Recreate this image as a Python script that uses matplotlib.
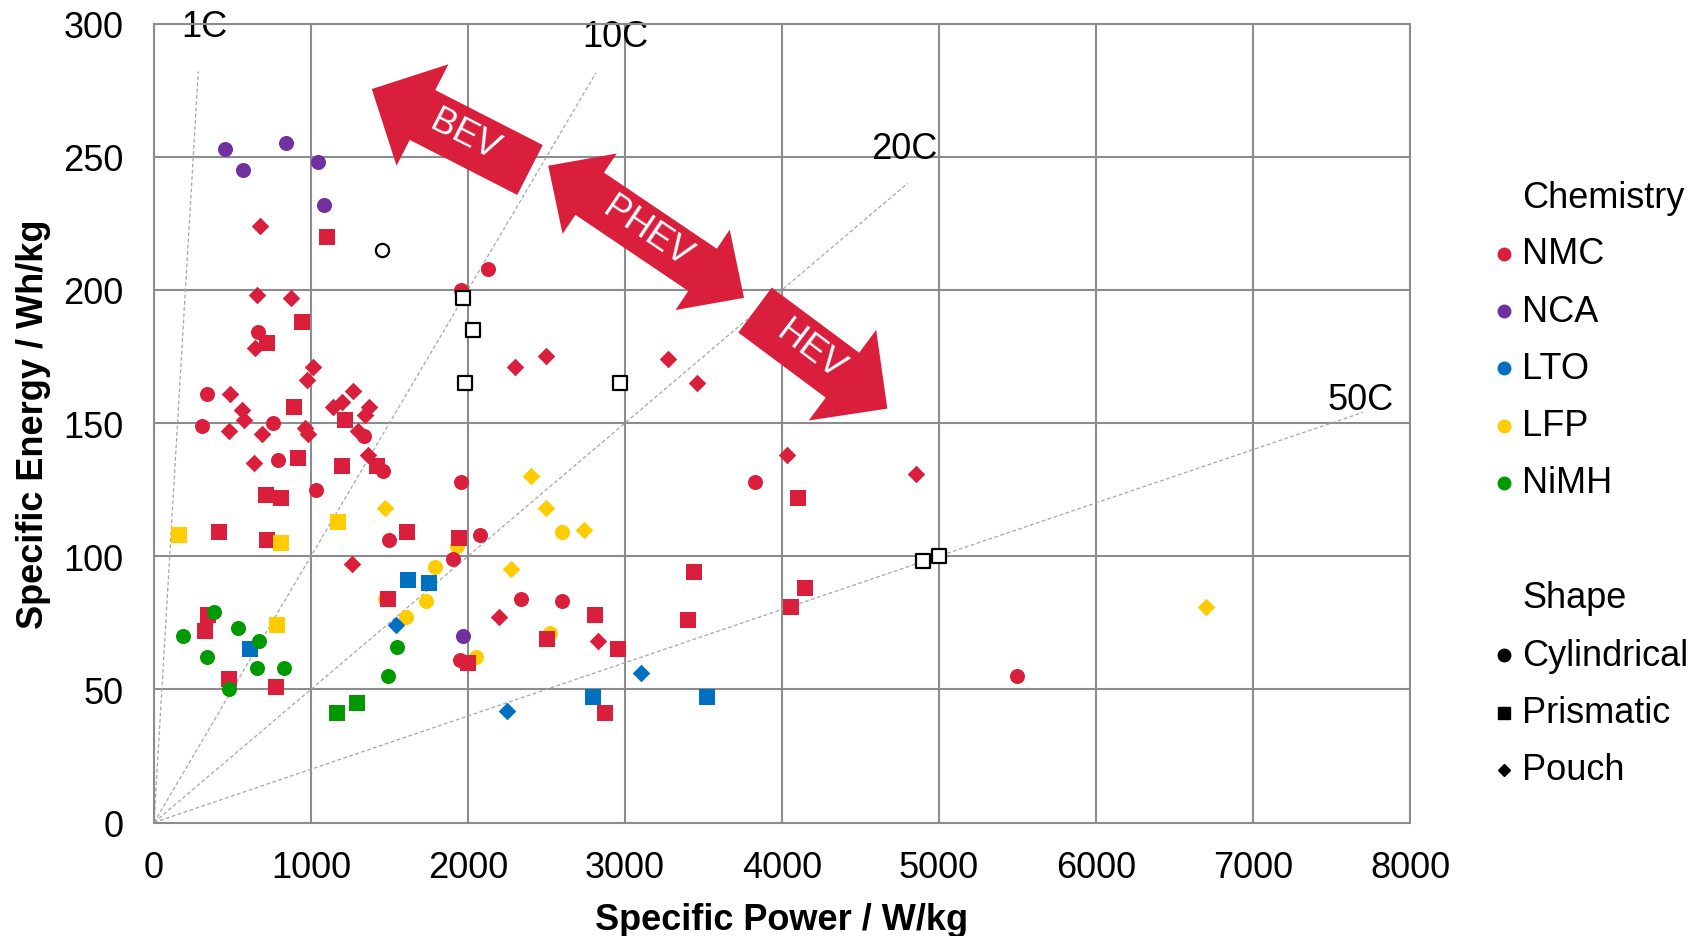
import numpy as np
import matplotlib
matplotlib.use('Agg')
import matplotlib.pyplot as plt
from matplotlib.patches import Polygon
from matplotlib.lines import Line2D
from matplotlib.transforms import IdentityTransform

plt.rcParams['font.family'] = ['Liberation Sans', 'DejaVu Sans']

# specific power (W/kg) / specific energy (Wh/kg), by chemistry and cell shape
nmc_cyl_p = [2130, 1955, 665, 335, 305, 760, 1340, 790, 1460, 1955, 1035, 1500, 2075, 1905, 2340, 2600, 1950, 3830, 5500]
nmc_cyl_e = [208, 200, 184, 161, 149, 150, 145, 136, 132, 128, 125, 106, 108, 99, 84, 83, 61, 128, 55]
nmc_pri_p = [1100, 940, 720, 890, 1215, 915, 1195, 1420, 715, 810, 415, 720, 1610, 1940, 1490, 345, 325, 475, 775,
             2000, 2505, 2810, 2955, 2875, 3440, 3400, 4100, 4145, 4060]
nmc_pri_e = [220, 188, 180, 156, 151, 137, 134, 134, 123, 122, 109, 106, 109, 107, 84, 78, 72, 54, 51,
             60, 69, 78, 65, 41, 94, 76, 122, 88, 81]
nmc_pou_p = [675, 655, 875, 645, 1015, 975, 485, 560, 1265, 1200, 1140, 1370, 1345, 575, 475, 690, 960, 980, 1300,
             635, 1365, 1260, 2200, 2825, 2300, 2500, 3275, 3460, 4030, 4855]
nmc_pou_e = [224, 198, 197, 178, 171, 166, 161, 155, 162, 158, 156, 156, 153, 151, 147, 146, 148, 146, 147,
             135, 138, 97, 77, 68, 171, 175, 174, 165, 138, 131]

nca_cyl_p = [450, 840, 570, 1045, 1080, 1965]
nca_cyl_e = [253, 255, 245, 248, 232, 70]

lto_pri_p = [1620, 1750, 610, 2795, 3525]
lto_pri_e = [91, 90, 65, 47, 47]
lto_pou_p = [1540, 2250, 3100]
lto_pou_e = [74, 42, 56]

lfp_cyl_p = [1930, 1790, 1470, 1730, 1605, 2050, 2600, 2520]
lfp_cyl_e = [104, 96, 84, 83, 77, 62, 109, 71]
lfp_pri_p = [160, 810, 1170, 785]
lfp_pri_e = [108, 105, 113, 74]
lfp_pou_p = [2400, 1470, 2275, 2500, 2740, 6700]
lfp_pou_e = [130, 118, 95, 118, 110, 81]

nimh_cyl_p = [385, 185, 537, 670, 335, 655, 830, 475, 1550, 1490]
nimh_cyl_e = [79, 70, 73, 68, 62, 58, 58, 50, 66, 55]
nimh_pri_p = [1165, 1295]
nimh_pri_e = [41, 45]

# unlabelled cells (open markers)
open_cyl_p = [1450]
open_cyl_e = [215]
open_pri_p = [1965, 2035, 1980, 2970, 4895, 5000]
open_pri_e = [197, 185, 165, 165, 98, 100]

c_rates = [1, 10, 20, 50]
c_line_top = [282, 281.5, 240, 154]
c_labels = ['1C', '10C', '20C', '50C']

chem_names = ['NMC', 'NCA', 'LTO', 'LFP', 'NiMH']
chem_colors = ['#DA1F3D', '#7030A0', '#0070C0', '#FFCC00', '#009A00']
shape_names = ['Cylindrical', 'Prismatic', 'Pouch']

RED = chem_colors[0]
W, H = 1699, 937
fig = plt.figure(figsize=(W / 100, H / 100), dpi=100)
ax = fig.add_axes([154 / W, 1 - 823.5 / H, 1256 / W, 799 / H])

ax.set_xlim(0, 8000)
ax.set_ylim(0, 300)
ax.set_xticks(range(0, 8001, 1000))
ax.set_yticks(range(0, 301, 50))
ax.grid(True, color='#8C8C8C', lw=1.5, zorder=0)
ax.set_axisbelow(True)
for s in ax.spines.values():
    s.set_color('#8C8C8C')
    s.set_linewidth(1.5)
ax.tick_params(length=0, labelsize=26)
ax.tick_params(axis='x', pad=20)
ax.tick_params(axis='y', pad=22)

# C-rate reference lines
for c, top, lab in zip(c_rates, c_line_top, c_labels):
    ax.plot([0, c * top], [0, top], ls=(0, (3, 2)), color='#A6A6A6', lw=0.9, zorder=1)
label_pos = [(318, 299), (2936, 295), (4782, 253), (7688, 159)]
for lab, (px, py) in zip(c_labels, label_pos):
    ax.text(px, py, lab, fontsize=26, ha='center', va='center', zorder=2, clip_on=False)

S_CIRC = 117
S_SQ = 117
S_DIA = 80


def pts(p, e, color, marker, size):
    ax.scatter(p, e, s=size, marker=marker, color=color, linewidths=0, zorder=3)


pts(lfp_cyl_p, lfp_cyl_e, chem_colors[3], 'o', S_CIRC)
pts(nmc_cyl_p, nmc_cyl_e, RED, 'o', S_CIRC)
pts(nmc_pri_p, nmc_pri_e, RED, 's', S_SQ)
pts(nmc_pou_p, nmc_pou_e, RED, 'D', S_DIA)
pts(nca_cyl_p, nca_cyl_e, chem_colors[1], 'o', S_CIRC)
pts(lto_pri_p, lto_pri_e, chem_colors[2], 's', S_SQ)
pts(lto_pou_p, lto_pou_e, chem_colors[2], 'D', S_DIA)
pts(lfp_pri_p, lfp_pri_e, chem_colors[3], 's', S_SQ)
pts(lfp_pou_p, lfp_pou_e, chem_colors[3], 'D', S_DIA)
pts(nimh_cyl_p, nimh_cyl_e, chem_colors[4], 'o', S_CIRC)
pts(nimh_pri_p, nimh_pri_e, chem_colors[4], 's', S_SQ)
ax.scatter(open_cyl_p, open_cyl_e, s=90, marker='o', facecolor='white', edgecolor='black', linewidths=1.6, zorder=3)
ax.scatter(open_pri_p, open_pri_e, s=90, marker='s', facecolor='white', edgecolor='black', linewidths=1.6, zorder=3)


# vehicle-class arrows, built in pixel space so the heads keep their shape
def arrow(start, end, bw, hw, hl, double=False):
    p0 = ax.transData.transform(start)
    p1 = ax.transData.transform(end)
    d = (p1 - p0) / np.hypot(*(p1 - p0))
    n = np.array([-d[1], d[0]])
    pts_ = [p1, p1 - d * hl + n * hw / 2, p1 - d * hl + n * bw / 2]
    if double:
        pts_ += [p0 + d * hl + n * bw / 2, p0 + d * hl + n * hw / 2, p0,
                 p0 + d * hl - n * hw / 2, p0 + d * hl - n * bw / 2]
    else:
        pts_ += [p0 + n * bw / 2, p0 - n * bw / 2]
    pts_ += [p1 - d * hl - n * bw / 2, p1 - d * hl - n * hw / 2]
    ax.add_patch(Polygon(pts_, closed=True, color=RED, lw=0,
                         transform=IdentityTransform(), zorder=4))


arrow((2395, 245), (1387, 275.4), 56, 114, 57)
arrow((2511, 246.6), (3758, 197), 51, 97, 50, double=True)
arrow((3828, 192.4), (4671, 155.4), 56, 113, 56)
ax.text(1981, 258.3, 'BEV', color='white', fontsize=26, rotation=-27,
        ha='center', va='center', rotation_mode='anchor', zorder=5)
ax.text(3138, 222, 'PHEV', color='white', fontsize=26, rotation=-34,
        ha='center', va='center', rotation_mode='anchor', zorder=5)
ax.text(4183, 177.6, 'HEV', color='white', fontsize=26, rotation=-37,
        ha='center', va='center', rotation_mode='anchor', zorder=5)

# axis titles
fig.text(782 / W, 1 - 921 / H, 'Specific Power / W/kg', fontsize=26, fontweight='bold',
         ha='center', va='center')
fig.text(34 / W, 1 - 424 / H, 'Specific Energy / Wh/kg', fontsize=26, fontweight='bold',
         ha='center', va='center', rotation=90)

# legend drawn by hand
mx, tx = 1504 / W, 1522 / W
fig.text(tx, 1 - 199 / H, 'Chemistry', fontsize=26, va='center')
for i, (name, col) in enumerate(zip(chem_names, chem_colors)):
    y = 1 - (255 + 57.2 * i) / H
    fig.add_artist(Line2D([mx], [y], marker='o', ms=9, color=col, lw=0, transform=fig.transFigure))
    fig.text(tx, y, name, fontsize=26, va='center')
fig.text(tx, 1 - 599 / H, 'Shape', fontsize=26, va='center')
for i, (name, mk, ms) in enumerate(zip(shape_names, ['o', 's', 'D'], [9, 8.5, 6.5])):
    y = 1 - (656 + 57.5 * i) / H
    fig.add_artist(Line2D([mx], [y], marker=mk, ms=ms, color='black', lw=0, transform=fig.transFigure))
    fig.text(tx, y, name, fontsize=26, va='center')

fig.savefig('out.png', dpi=100)
